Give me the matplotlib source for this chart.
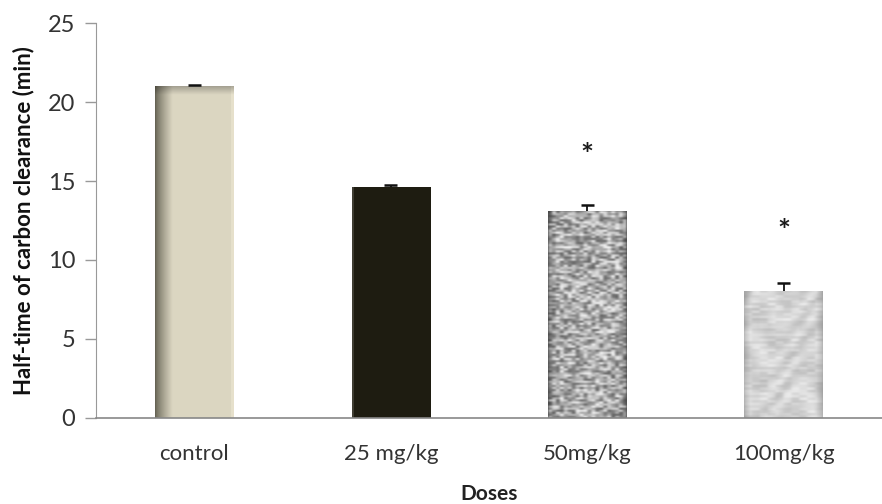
import numpy as np
import matplotlib
matplotlib.use("Agg")
import matplotlib.pyplot as plt
from matplotlib.patches import Rectangle

# data
doses = ["control", "25 mg/kg", "50mg/kg", "100mg/kg"]
half_time = [21.0, 14.6, 13.1, 8.05]
sem = [0.1, 0.15, 0.4, 0.5]
significant = [False, False, True, True]
star_y = [None, None, 17.1, 12.3]

plt.rcParams['font.family'] = ['Lato', 'DejaVu Sans']

fig = plt.figure(figsize=(8.82, 5.04), dpi=100)
ax = fig.add_axes([0.109, 0.171, 0.891, 0.783])

x = np.arange(len(doses)) + 0.5
width = 0.40
cap = 0.033


def hash_noise(h, w, scale):
    # deterministic value noise, smoothed a little
    gy, gx = np.mgrid[0:h, 0:w]
    cy, cx = gy // scale, gx // scale
    v = np.sin(cx * 12.9898 + cy * 78.233) * 43758.5453
    v = v - np.floor(v)
    k = np.ones(3) / 3.0
    for _ in range(2):
        v = np.apply_along_axis(lambda r: np.convolve(r, k, mode='same'), 0, v)
        v = np.apply_along_axis(lambda r: np.convolve(r, k, mode='same'), 1, v)
    return v


def texture(kind, h=400, w=80):
    gx = np.linspace(0, 1, w)[None, :].repeat(h, 0)
    gy = np.linspace(0, 1, h)[:, None].repeat(w, 1)
    if kind == 0:
        base = np.array([0.86, 0.84, 0.76])
        dark = np.array([0.40, 0.39, 0.33])
        t = np.clip(gx / 0.22, 0, 1) ** 0.8
        img = dark + (base - dark) * t[..., None]
        top = np.clip((gy - 0.0) / 0.025, 0, 1)
        img = img * (0.75 + 0.25 * top[..., None])
        img[:, -3:] = img[:, -3:] * 1.05
    elif kind == 1:
        img = np.zeros((h, w, 3)) + np.array([0.12, 0.11, 0.07])
        img[:, :2] = [0.25, 0.24, 0.2]
    elif kind == 2:
        n = hash_noise(h, w, 4)
        g = 0.38 + 0.58 * n
        edge = np.minimum(gx, 1 - gx)
        g = g * (0.75 + 0.25 * np.clip(edge / 0.1, 0, 1))
        img = np.stack([g, g, g], -1)
    else:
        n = hash_noise(h, w, 8)
        streak = 0.5 + 0.5 * np.sin(gy * 22 + gx * 5 + 3 * np.sin(gx * 7 + gy * 4))
        g = 0.82 + 0.10 * n - 0.08 * streak
        edge = np.minimum(gx, 1 - gx)
        g = g * (0.85 + 0.15 * np.clip(edge / 0.08, 0, 1))
        img = np.stack([g, g, g], -1)
    return np.clip(img, 0, 1)


for i, (xi, val) in enumerate(zip(x, half_time)):
    rect = Rectangle((xi - width / 2, 0), width, val, facecolor='none',
                     edgecolor='none', zorder=2)
    ax.add_patch(rect)
    im = ax.imshow(texture(i), extent=(xi - width / 2, xi + width / 2, 0, val),
                   aspect='auto', zorder=2, interpolation='bilinear')
    im.set_clip_path(rect)

# upper error bars only
tops = np.array(half_time) + np.array(sem)
ax.vlines(x, half_time, tops, color='#111111', lw=1.3, zorder=3)
ax.hlines(tops, x - cap, x + cap, color='#111111', lw=1.8, zorder=3)

for xi, sig, sy in zip(x, significant, star_y):
    if sig:
        # the asterisk glyph sits high in its box, nudge it down
        ax.annotate("*", (xi, sy), xytext=(0, -6), textcoords='offset points',
                    ha='center', va='center', fontsize=22,
                    fontweight='bold', color='#1a1a1a')

ax.set_xlim(0, 4)
ax.set_ylim(0, 25)
ax.set_yticks([0, 5, 10, 15, 20, 25])
ax.set_xticks(x)
ax.set_xticklabels(doses)
ax.tick_params(axis='y', direction='out', length=8, width=1, color='#999999',
               labelsize=17, labelcolor='#333333', pad=7)
ax.tick_params(axis='x', length=0, labelsize=16, labelcolor='#333333', pad=19)

for s in ['top', 'right']:
    ax.spines[s].set_visible(False)
ax.spines['left'].set_color('#999999')
ax.spines['bottom'].set_color('#888888')
ax.spines['bottom'].set_linewidth(1.2)

ax.set_ylabel("Half-time of carbon clearance (min)", fontsize=16,
              fontweight='bold', color='#111111', labelpad=10)
ax.set_xlabel("Doses", fontsize=15, fontweight='bold', color='#222222',
              labelpad=14)

fig.savefig("out.png", dpi=100)
